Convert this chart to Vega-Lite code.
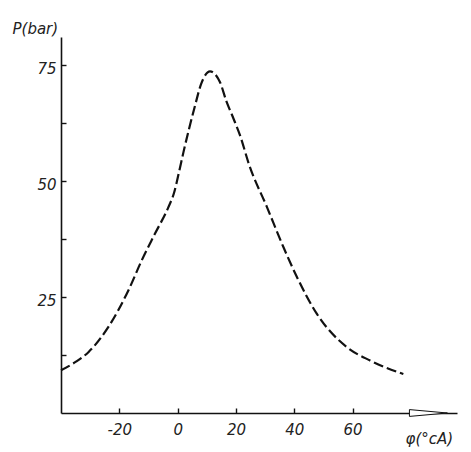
{
  "$schema": "https://vega.github.io/schema/vega-lite/v6.json",
  "width": 396,
  "height": 376,
  "autosize": {"type": "none"},
  "padding": {"left": 61, "top": 37, "right": 14, "bottom": 39},
  "background": "white",
  "config": {
    "view": {"stroke": null},
    "axis": {
      "grid": false,
      "domainColor": "#111",
      "domainWidth": 1.6,
      "tickColor": "#111",
      "tickWidth": 1.4,
      "labelFont": "DejaVu Sans",
      "labelFontStyle": "italic",
      "labelColor": "#222",
      "labelFontSize": 15,
      "titleFont": "DejaVu Sans",
      "titleFontStyle": "italic",
      "titleFontWeight": "normal",
      "titleColor": "#222"
    }
  },
  "datasets": {
    "curve": [
      {"phi": -40, "p": 9.2},
      {"phi": -35, "p": 11.0},
      {"phi": -30.6, "p": 13.1},
      {"phi": -23.8, "p": 18.5},
      {"phi": -16.9, "p": 26.4},
      {"phi": -12.3, "p": 32.9},
      {"phi": -7.8, "p": 38.6},
      {"phi": -3.2, "p": 44.3},
      {"phi": -1.2, "p": 47.5},
      {"phi": 0.5, "p": 52.0},
      {"phi": 2, "p": 56.2},
      {"phi": 6, "p": 66.3},
      {"phi": 8, "p": 70.8},
      {"phi": 11.1, "p": 73.6},
      {"phi": 14.5, "p": 71.3},
      {"phi": 16.8, "p": 67.0},
      {"phi": 19.1, "p": 63.5},
      {"phi": 21.4, "p": 59.8},
      {"phi": 24.5, "p": 53.5},
      {"phi": 30.6, "p": 44.4},
      {"phi": 36.3, "p": 35.7},
      {"phi": 40.9, "p": 29.3},
      {"phi": 47.7, "p": 21.4},
      {"phi": 58, "p": 14.2},
      {"phi": 66, "p": 11.3},
      {"phi": 77.4, "p": 8.4}
    ],
    "arrow": [{"phi": 86, "p": 0}]
  },
  "layer": [
    {
      "data": {"name": "curve"},
      "mark": {"type": "line", "color": "#111", "strokeWidth": 2.2, "strokeDash": [10, 4], "interpolate": "monotone"},
      "encoding": {
        "x": {
          "field": "phi", "type": "quantitative",
          "scale": {"domain": [-40, 95.8], "nice": false, "zero": false},
          "axis": {
            "values": [-20, 0, 20, 40, 60],
            "labelExpr": "replace(datum.label, '−', '-')",
            "tickSize": -5,
            "labelPadding": 14,
            "title": "φ(°cA)",
            "titleFontSize": 15,
            "titleX": 344,
            "titleY": 25,
            "titleAlign": "left",
            "titleBaseline": "middle"
          }
        },
        "y": {
          "field": "p", "type": "quantitative",
          "scale": {"domain": [0, 81], "nice": false},
          "axis": {
            "values": [12.5, 25, 37.5, 50, 62.5, 75],
            "labelExpr": "datum.value % 25 == 0 ? datum.label : ''",
            "tickSize": -5,
            "labelPadding": 10,
            "labelOffset": 4,
            "title": "P(bar)",
            "titleFontSize": 15,
            "titleAngle": 0,
            "titleX": -49,
            "titleY": -4,
            "titleAlign": "left",
            "titleBaseline": "alphabetic"
          }
        }
      }
    },
    {
      "data": {"name": "arrow"},
      "mark": {"type": "point", "shape": "M -1 -0.18 L 1 0 L -1 0.18 Z", "size": 1444, "filled": true, "fill": "white", "stroke": "#111", "strokeWidth": 1, "opacity": 1},
      "encoding": {
        "x": {"field": "phi", "type": "quantitative"},
        "y": {"field": "p", "type": "quantitative"}
      }
    }
  ]
}
